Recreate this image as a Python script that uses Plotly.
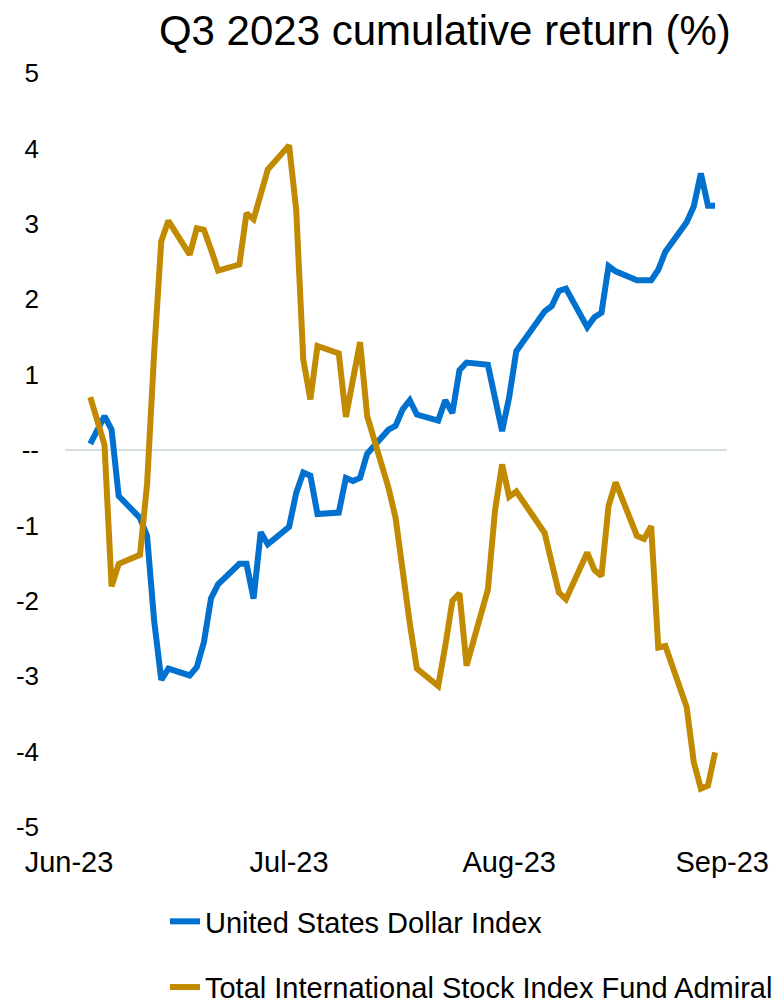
import plotly.graph_objects as go

FONT = "Liberation Sans, Arial, sans-serif"
USD_COLOR = "#0071CE"
INTL_COLOR = "#C28A00"

trade_dates = [
    "2023-07-03", "2023-07-05", "2023-07-06", "2023-07-07",
    "2023-07-10", "2023-07-11", "2023-07-12", "2023-07-13", "2023-07-14",
    "2023-07-17", "2023-07-18", "2023-07-19", "2023-07-20", "2023-07-21",
    "2023-07-24", "2023-07-25", "2023-07-26", "2023-07-27", "2023-07-28",
    "2023-07-31", "2023-08-01", "2023-08-02", "2023-08-03", "2023-08-04",
    "2023-08-07", "2023-08-08", "2023-08-09", "2023-08-10", "2023-08-11",
    "2023-08-14", "2023-08-15", "2023-08-16", "2023-08-17", "2023-08-18",
    "2023-08-21", "2023-08-22", "2023-08-23", "2023-08-24", "2023-08-25",
    "2023-08-28", "2023-08-29", "2023-08-30", "2023-08-31", "2023-09-01",
    "2023-09-05", "2023-09-06", "2023-09-07", "2023-09-08",
    "2023-09-11", "2023-09-12", "2023-09-13", "2023-09-14", "2023-09-15",
    "2023-09-18", "2023-09-19", "2023-09-20", "2023-09-21", "2023-09-22",
    "2023-09-25", "2023-09-26", "2023-09-27", "2023-09-28", "2023-09-29",
]

usd_index = [
    0.08, 0.45, 0.27, -0.61,
    -0.90, -1.14, -2.27, -3.05, -2.90,
    -2.99, -2.88, -2.55, -1.97, -1.78,
    -1.51, -1.51, -1.97, -1.09, -1.25,
    -1.02, -0.57, -0.30, -0.34, -0.85,
    -0.83, -0.37, -0.41, -0.37, -0.05,
    0.27, 0.32, 0.54, 0.66, 0.47,
    0.39, 0.66, 0.49, 1.06, 1.16,
    1.13, 0.69, 0.25, 0.70, 1.31,
    1.84, 1.91, 2.11, 2.14,
    1.63, 1.76, 1.82, 2.44, 2.37,
    2.25, 2.25, 2.25, 2.39, 2.63,
    3.02, 3.23, 3.67, 3.24, 3.24,
]

intl_stock = [
    0.70, 0.07, -1.81, -1.51,
    -1.39, -0.45, 1.30, 2.77, 3.04,
    2.59, 2.94, 2.92, 2.66, 2.38,
    2.46, 3.14, 3.06, 3.40, 3.72,
    4.04, 3.19, 1.20, 0.67, 1.38,
    1.28, 0.44, 0.90, 1.43, 0.45,
    -0.50, -0.90, -1.65, -2.30, -2.90,
    -3.13, -2.60, -2.00, -1.90, -2.86,
    -1.85, -0.81, -0.19, -0.62, -0.55,
    -1.10, -1.50, -1.89, -1.98,
    -1.36, -1.59, -1.67, -0.74, -0.43,
    -1.14, -1.18, -1.01, -2.62, -2.60,
    -3.41, -4.14, -4.49, -4.45, -4.01,
]

month_ticks = ["2023-06-30", "2023-07-31", "2023-08-31", "2023-09-30"]
month_labels = ["Jun-23", "Jul-23", "Aug-23", "Sep-23"]

y_ticks = [-5, -4, -3, -2, -1, 0, 1, 2, 3, 4, 5]
y_labels = ["-5", "-4", "-3", "-2", "-1", "--", "1", "2", "3", "4", "5"]

figure = go.Figure()

figure.add_trace(
    go.Scatter(
        x=trade_dates,
        y=usd_index,
        mode="lines",
        name="United States Dollar Index",
        legendgroup="usd",
        line={"color": USD_COLOR, "width": 6},
    )
)

figure.add_trace(
    go.Scatter(
        x=trade_dates,
        y=intl_stock,
        mode="lines",
        name="Total International Stock Index Fund Admiral",
        legendgroup="intl",
        line={"color": INTL_COLOR, "width": 6},
    )
)

# the page body keeps its default 8px margin, so the figure is 8px smaller
figure.update_layout(
    width=776,
    height=995,
    margin={"l": 57, "r": 57, "t": 65, "b": 176, "autoexpand": False},
    paper_bgcolor="white",
    plot_bgcolor="white",
    font={"family": FONT, "color": "black"},
    title={
        "text": "Q3 2023 cumulative return (%)",
        "font": {"size": 42, "family": FONT, "color": "black"},
        "x": 0.563,
        "xanchor": "center",
        "y": 0.978,
        "yanchor": "middle",
    },
    showlegend=True,
    legend={
        "x": 0.151,
        "xanchor": "left",
        "y": -0.0915,
        "yanchor": "top",
        "font": {"size": 29, "family": FONT, "color": "black"},
        "traceorder": "grouped",
        "tracegroupgap": 25,
        "bgcolor": "rgba(0,0,0,0)",
    },
)

figure.update_xaxes(
    type="date",
    range=["2023-06-29 10:30", "2023-09-30 16:20"],
    tickvals=month_ticks,
    ticktext=month_labels,
    showgrid=False,
    showline=False,
    zeroline=False,
    ticks="",
    tickfont={"size": 29, "family": FONT, "color": "black"},
    ticklabelstandoff=15,
)

figure.update_yaxes(
    range=[-5, 5],
    tickvals=y_ticks,
    ticktext=y_labels,
    showgrid=False,
    showline=False,
    zeroline=True,
    zerolinecolor="#D5DFE1",
    zerolinewidth=2,
    ticks="",
    tickfont={"size": 26, "family": FONT, "color": "black"},
    ticklabelstandoff=25,
)

figure.write_html("out.html")
